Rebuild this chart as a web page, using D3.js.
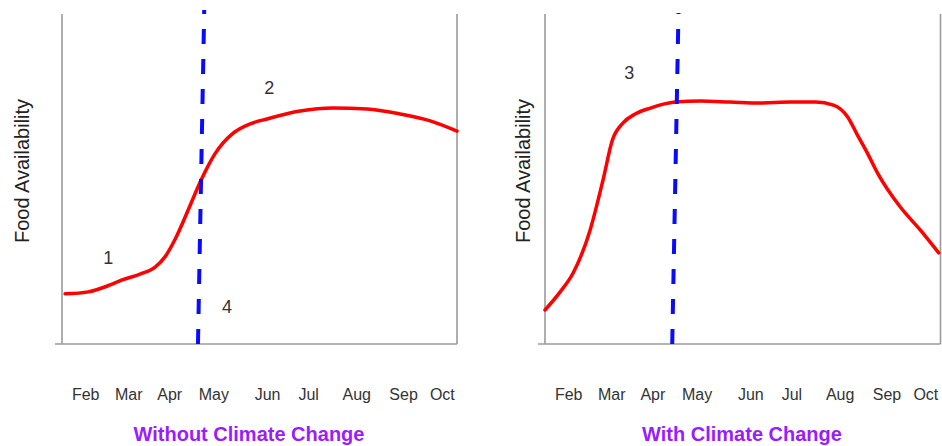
<!DOCTYPE html>
<html>
<head>
<meta charset="utf-8">
<script src="https://cdn.jsdelivr.net/npm/d3@7"></script>
<style>
  html, body { margin: 0; padding: 0; background: #fff; }
  svg { display: block; }
  text { font-family: "Liberation Sans", Arial, sans-serif; }
</style>
</head>
<body>
<svg id="chart" width="942" height="446"></svg>
<script>
// ---- Data (x in month units: Feb = 1 ... Oct = 9; y = food availability 0..100) ----
const monthLabels = ["Feb", "Mar", "Apr", "May", "Jun", "Jul", "Aug", "Sep", "Oct"];
const monthTicks  = [1, 1.965, 2.885, 3.875, 5.08, 6.0, 7.08, 8.13, 9];

const withoutMonth = [0.55, 1.07, 1.56, 1.83, 2.23, 2.57, 2.79, 3.02, 3.31, 3.53, 3.72, 3.91, 4.32, 4.70, 5.08, 5.82, 6.56, 7.32, 8.06, 8.74, 9.34];
const withoutValue = [15.2, 15.8, 17.9, 19.4, 21.2, 23.3, 26.4, 31.8, 40.6, 47.6, 53.0, 57.6, 63.9, 66.7, 68.2, 70.6, 71.5, 71.2, 69.7, 67.6, 64.5];

const withMonth = [0.48, 0.82, 1.11, 1.49, 1.78, 1.99, 2.23, 2.50, 2.84, 3.40, 3.96, 4.63, 5.30, 5.98, 6.54, 6.94, 7.26, 7.48, 7.70, 7.93, 8.44, 8.89, 9.30];
const withValue = [10.3, 15.8, 21.5, 34.5, 49.7, 61.8, 67.0, 69.7, 71.5, 73.3, 73.6, 73.3, 73.0, 73.3, 73.3, 72.4, 68.8, 63.3, 57.9, 51.8, 41.5, 34.5, 27.6];

// dashed reference line (start / end as [month, value])
const withoutMarker = [[3.53, 0], [3.67, 101.2]];
const withMarker    = [[3.33, 0], [3.47, 100.3]];

const withoutNotes = [{t: "1", m: 1.52, v: 26}, {t: "2", m: 5.13, v: 77.6}, {t: "4", m: 4.18, v: 11.2}];
const withNotes    = [{t: "3", m: 2.37, v: 82.1}];

const titles = ["Without Climate Change", "With Climate Change"];
const yTitle = "Food Availability";

// ---- Drawing ----
const svg = d3.select("#chart");
const panels = [
  {x0: 62,  x1: 457,   ylabX: 29,  months: withoutMonth, values: withoutValue, marker: withoutMarker, notes: withoutNotes, title: titles[0], titleX: 249},
  {x0: 545, x1: 940.5, ylabX: 530, months: withMonth,    values: withValue,    marker: withMarker,    notes: withNotes,    title: titles[1], titleX: 742}
];

const y = d3.scaleLinear().domain([0, 100]).range([344, 14]);
const xDomain = [0.48, 9.34];

panels.forEach(p => {
  const x = d3.scaleLinear().domain(xDomain).range([p.x0, p.x1]);
  const g = svg.append("g");

  // axes frame (left, bottom, right)
  const axisColor = "#9a9a9a";
  g.append("line").attr("x1", x(xDomain[0])).attr("x2", x(xDomain[0]))
    .attr("y1", y(100)).attr("y2", y(0)).attr("stroke", axisColor).attr("stroke-width", 1.6);
  g.append("line").attr("x1", x(xDomain[1])).attr("x2", x(xDomain[1]))
    .attr("y1", y(100)).attr("y2", y(0)).attr("stroke", axisColor).attr("stroke-width", 1.6);
  g.append("line").attr("x1", x(xDomain[0]) - 7).attr("x2", x(xDomain[1]))
    .attr("y1", y(0)).attr("y2", y(0)).attr("stroke", axisColor).attr("stroke-width", 1.6);

  // month labels via axis
  const ax = d3.axisBottom(x).tickValues(monthTicks)
    .tickFormat((d, i) => monthLabels[i]).tickSize(0).tickPadding(45);
  const axg = g.append("g").attr("transform", `translate(0,${y(0)})`).call(ax);
  axg.select(".domain").remove();
  axg.selectAll("text").attr("font-size", 16).attr("fill", "#333")
    .attr("font-family", '"Liberation Sans", Arial, sans-serif');

  // red curve
  const pts = p.months.map((m, i) => [m, p.values[i]]);
  const line = d3.line().x(d => x(d[0])).y(d => y(d[1])).curve(d3.curveMonotoneX);
  g.append("path").datum(pts).attr("d", line)
    .attr("fill", "none").attr("stroke", "#ff0000").attr("stroke-width", 3.5)
    .attr("stroke-linecap", "round");

  // blue dashed marker
  g.append("line")
    .attr("x1", x(p.marker[0][0])).attr("y1", y(p.marker[0][1]))
    .attr("x2", x(p.marker[1][0])).attr("y2", y(p.marker[1][1]))
    .attr("stroke", "#0a0aff").attr("stroke-width", 4)
    .attr("stroke-dasharray", "15,15");

  // annotation numbers
  g.selectAll("text.note").data(p.notes).enter().append("text")
    .attr("class", "note")
    .attr("x", d => x(d.m)).attr("y", d => y(d.v))
    .attr("text-anchor", "middle").attr("dominant-baseline", "central")
    .attr("font-size", 18).attr("fill", "#333")
    .text(d => d.t);

  // y axis title
  g.append("text")
    .attr("transform", `translate(${p.ylabX},171) rotate(-90)`)
    .attr("text-anchor", "middle").attr("font-size", 20).attr("fill", "#222")
    .text(yTitle);

  // panel title
  g.append("text")
    .attr("x", p.titleX).attr("y", 441)
    .attr("text-anchor", "middle").attr("font-size", 20).attr("font-weight", "bold")
    .attr("fill", "#9a1cff")
    .text(p.title);
});
</script>
</body>
</html>
